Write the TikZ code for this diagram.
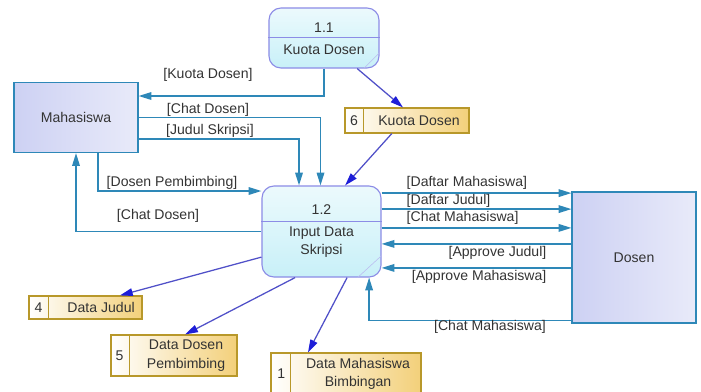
\documentclass[tikz,border=0pt]{standalone}
\usepackage{fontspec}
\setmainfont{Liberation Sans}
\usetikzlibrary{arrows.meta,calc}

\definecolor{flowblue}{HTML}{2E88B8}
\definecolor{storeblue}{HTML}{5050C8}
\definecolor{tipblue}{HTML}{1E1ED8}
\definecolor{procline}{HTML}{8C8CE6}
\definecolor{procfill}{HTML}{C8F0F8}
\definecolor{entfill}{HTML}{CDD1F3}
\definecolor{storegold}{HTML}{F3D07A}
\definecolor{storeline}{HTML}{B8982A}
\definecolor{labelgray}{HTML}{333333}

\begin{document}
\begin{tikzpicture}[x=0.025cm, y=-0.025cm, font=\fontsize{10}{13}\selectfont, text=labelgray,
    entity/.style={draw=flowblue, line width=0.8pt, left color=entfill, right color=entfill!45, inner sep=0pt},
    process/.style={draw=procline, line width=0.8pt, rounded corners=0.3cm, top color=procfill!35, bottom color=procfill, inner sep=0pt},
    store/.style={draw=storeline, line width=0.8pt, left color=white, right color=storegold, inner sep=0pt},
    flow/.style={draw=flowblue, line width=1pt, -{Triangle[length=3.2mm,width=1.9mm]}},
    dataflow/.style={draw=storeblue, line width=0.9pt, -{Triangle[length=3.2mm,width=1.9mm,color=tipblue]}},
    lbl/.style={inner sep=1pt}]
    \useasboundingbox (0,0) rectangle (701,391);

    % Draw the external entities
    \node[entity, minimum width=3.1cm, minimum height=1.75cm] (mhs) at (76,117.5) {Mahasiswa};
    \node[entity, minimum width=3.1cm, minimum height=3.275cm] (dsn) at (634,257.5) {Dosen};

    % Draw the processes
    \node[process, minimum width=2.75cm, minimum height=1.5cm] (p11) at (324,38) {};
    \draw[procline, line width=0.8pt] ([yshift=-0.75cm]p11.north west) -- ([yshift=-0.75cm]p11.north east);
    \draw[procline!60] ([xshift=-0.4cm]p11.south east) -- ([yshift=0.4cm]p11.south east);
    \node (p11id) at ($(p11.north)+(0,20)$) {1.1};
    \node (p11name) at ($(p11.north)+(0,42)$) {Kuota Dosen};

    \node[process, minimum width=2.975cm, minimum height=2.275cm] (p12) at (321.5,231.5) {};
    \draw[procline, line width=0.8pt] ([yshift=-0.9cm]p12.north west) -- ([yshift=-0.9cm]p12.north east);
    \draw[procline!60] ([xshift=-0.6cm]p12.south east) -- ([yshift=0.55cm]p12.south east);
    \node (p12id) at ($(p12.north)+(0,24)$) {1.2};
    \node[align=center] (p12name) at ($(p12.north)+(0,57)$) {Input Data\\Skripsi};

    % Draw the data stores
    \node[store, minimum width=3.1cm, minimum height=0.625cm] (st6) at (407,120.5) {};
    \draw[storeline, line width=0.8pt] ([xshift=0.475cm]st6.north west) -- ([xshift=0.475cm]st6.south west);
    \node (st6id) at ([xshift=0.24cm]st6.west) {6};
    \node (st6name) at ([xshift=0.3cm]st6.center) {Kuota Dosen};

    \node[store, minimum width=2.825cm, minimum height=0.575cm] (st4) at (85.5,307.5) {};
    \draw[storeline, line width=0.8pt] ([xshift=0.5cm]st4.north west) -- ([xshift=0.5cm]st4.south west);
    \node (st4id) at ([xshift=0.25cm]st4.west) {4};
    \node (st4name) at ([xshift=0.39cm]st4.center) {Data Judul};

    \node[store, minimum width=3.15cm, minimum height=1.025cm] (st5) at (174,355.5) {};
    \draw[storeline, line width=0.8pt] ([xshift=0.475cm]st5.north west) -- ([xshift=0.475cm]st5.south west);
    \node (st5id) at ([xshift=0.23cm]st5.west) {5};
    \node[align=center] (st5name) at ([xshift=0.3cm]st5.center) {Data Dosen\\Pembimbing};

    \node[store, minimum width=3.75cm, minimum height=1.025cm] (st1) at (346,373.5) {};
    \draw[storeline, line width=0.8pt] ([xshift=0.5cm]st1.north west) -- ([xshift=0.5cm]st1.south west);
    \node (st1id) at ([xshift=0.27cm]st1.west) {1};
    \node[align=center] (st1name) at ([xshift=0.3cm]st1.center) {Data Mahasiswa\\Bimbingan};

    % Flows between Mahasiswa and process 1.2
    \draw[flow] (p11.south) |- ($(mhs.east)+(0,-21.5)$);
    \node[lbl] (lkuota) at (208,75) {[Kuota Dosen]};
    \draw[flow] (mhs.east) -| ($(p12.north)+(-1,0)$);
    \node[lbl] (lchat1) at (208,110) {[Chat Dosen]};
    \draw[flow] ($(mhs.east)+(0,21.5)$) -| ($(p12.north)+(-22.5,0)$);
    \node[lbl] (ljudul) at (210,131) {[Judul Skripsi]};
    \draw[flow] ($(mhs.south)+(22,0)$) |- ($(p12.west)+(0,-40.5)$);
    \node[lbl] (lpemb) at (172,183) {[Dosen Pembimbing]};
    \draw[flow] (p12.west) -| (mhs.south);
    \node[lbl] (lchat2) at (158,216) {[Chat Dosen]};

    % Flows between process 1.2 and Dosen
    \draw[flow] ([yshift=0.96cm]p12.east) -- ([yshift=0.96cm]p12.east -| dsn.west);
    \node[lbl, anchor=west] (ldmhs) at (405,183) {[Daftar Mahasiswa]};
    \draw[flow] ([yshift=0.56cm]p12.east) -- ([yshift=0.56cm]p12.east -| dsn.west);
    \node[lbl, anchor=west] (ldjud) at (405,201) {[Daftar Judul]};
    \draw[flow] ([yshift=0.09cm]p12.east) -- ([yshift=0.09cm]p12.east -| dsn.west);
    \node[lbl, anchor=west] (lcmhs) at (405,218) {[Chat Mahasiswa]};
    \draw[flow] ([yshift=-0.31cm]p12.east -| dsn.west) -- ([yshift=-0.31cm]p12.east);
    \node[lbl, anchor=east] (lajud) at (548,253) {[Approve Judul]};
    \draw[flow] ([yshift=-0.91cm]p12.east -| dsn.west) -- ([yshift=-0.91cm]p12.east);
    \node[lbl, anchor=east] (lamhs) at (548,277) {[Approve Mahasiswa]};
    \draw[flow] ([yshift=0.08cm]dsn.south west) -| ([xshift=1.19cm]p12.south);
    \node[lbl] (lchat3) at (490,327) {[Chat Mahasiswa]};

    % Flows to and from the data stores
    \draw[dataflow] ([xshift=0.83cm]p11.south) -- ([xshift=-0.1cm]st6.north);
    \draw[dataflow] ([xshift=-0.38cm]st6.south) -- ([xshift=0.59cm]p12.north);
    \draw[dataflow] ([yshift=-0.64cm]p12.west) -- ([xshift=0.86cm]st4.north);
    \draw[dataflow] ([xshift=-0.66cm]p12.south) -- ([xshift=0.28cm]st5.north);
    \draw[dataflow] ([xshift=0.64cm]p12.south) -- ([xshift=-0.95cm]st1.north);
\end{tikzpicture}
\end{document}
